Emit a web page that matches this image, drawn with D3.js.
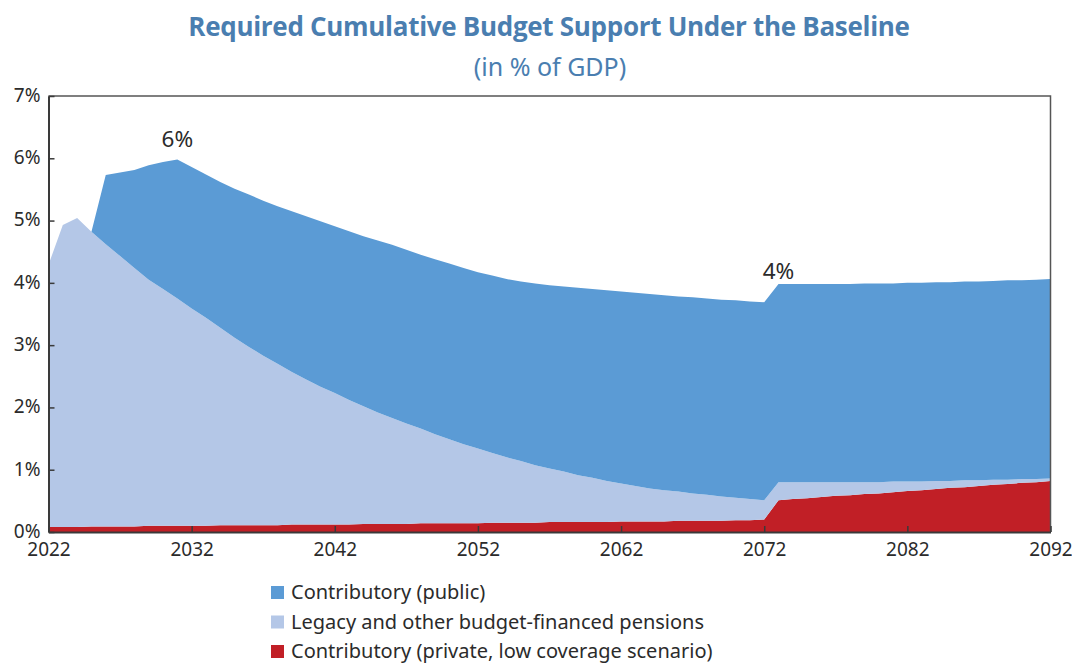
<!DOCTYPE html>
<html>
<head>
<meta charset="utf-8">
<script src="https://cdn.jsdelivr.net/npm/d3@7/dist/d3.min.js"></script>
<style>
  html, body { margin: 0; padding: 0; background: #fff; }
  svg { display: block; font-family: "Noto Sans", "Open Sans", sans-serif; }
</style>
</head>
<body>
<svg id="chart" width="1072" height="663"></svg>
<script>
// Years covered by the projection
const years = d3.range(2022, 2093);

// Contributory (private, low coverage scenario), % of GDP
const privateContrib = [
  0.08, 0.08, 0.08, 0.09, 0.09, 0.09, 0.09, 0.10, 0.10, 0.10,
  0.10, 0.10, 0.11, 0.11, 0.11, 0.11, 0.11, 0.12, 0.12, 0.12,
  0.12, 0.12, 0.13, 0.13, 0.13, 0.13, 0.14, 0.14, 0.14, 0.14,
  0.14, 0.15, 0.15, 0.15, 0.15, 0.16, 0.16, 0.16, 0.16, 0.16,
  0.17, 0.17, 0.17, 0.17, 0.18, 0.18, 0.18, 0.18, 0.19, 0.19,
  0.20, 0.51, 0.53, 0.54, 0.56, 0.58, 0.59, 0.61, 0.62, 0.64,
  0.66, 0.67, 0.69, 0.71, 0.72, 0.74, 0.76, 0.77, 0.79, 0.80,
  0.82
];

// Legacy and other budget-financed pensions, % of GDP
const legacy = [
  4.21, 4.85, 4.96, 4.73, 4.53, 4.34, 4.15, 3.95, 3.80, 3.65,
  3.49, 3.34, 3.17, 3.01, 2.86, 2.72, 2.59, 2.45, 2.33, 2.21,
  2.11, 2.00, 1.89, 1.79, 1.70, 1.61, 1.52, 1.43, 1.35, 1.27,
  1.20, 1.12, 1.05, 0.99, 0.92, 0.86, 0.81, 0.75, 0.71, 0.66,
  0.61, 0.57, 0.53, 0.50, 0.47, 0.44, 0.42, 0.39, 0.36, 0.34,
  0.31, 0.29, 0.27, 0.26, 0.24, 0.22, 0.21, 0.19, 0.18, 0.17,
  0.15, 0.14, 0.13, 0.11, 0.11, 0.09, 0.08, 0.07, 0.06, 0.05,
  0.04
];

// Contributory (public), % of GDP
const publicContrib = [
  0.00, 0.00, 0.00, 0.00, 1.11, 1.34, 1.57, 1.84, 2.04, 2.23,
  2.27, 2.30, 2.34, 2.39, 2.45, 2.49, 2.53, 2.58, 2.62, 2.66,
  2.68, 2.71, 2.73, 2.76, 2.78, 2.79, 2.79, 2.81, 2.82, 2.83,
  2.83, 2.85, 2.86, 2.88, 2.92, 2.94, 2.97, 3.01, 3.03, 3.06,
  3.08, 3.10, 3.12, 3.13, 3.13, 3.15, 3.15, 3.16, 3.17, 3.17,
  3.18, 3.18, 3.18, 3.18, 3.18, 3.18, 3.18, 3.19, 3.19, 3.18,
  3.19, 3.19, 3.19, 3.19, 3.19, 3.19, 3.19, 3.20, 3.19, 3.20,
  3.20
];

// Series, stacked bottom to top
const seriesKeys = ["private", "legacy", "public"];
const seriesNames = {
  public: "Contributory (public)",
  legacy: "Legacy and other budget-financed pensions",
  private: "Contributory (private, low coverage scenario)"
};
const seriesColors = { public: "#5B9BD5", legacy: "#B4C7E7", private: "#C11F26" };
const legendOrder = ["public", "legacy", "private"];

// Axis ticks
const xTickValues = [2022, 2032, 2042, 2052, 2062, 2072, 2082, 2092];
const yTickValues = [0, 1, 2, 3, 4, 5, 6, 7];
const yTickLabels = ["0%", "1%", "2%", "3%", "4%", "5%", "6%", "7%"];

// Value callouts on the total
const callouts = [
  { year: 2031, text: "6%", dy: -13 },
  { year: 2073, text: "4%", dy: -5 }
];

const rows = years.map((yr, i) => ({
  year: yr,
  private: privateContrib[i],
  legacy: legacy[i],
  public: publicContrib[i]
}));

const svg = d3.select("#chart");
const plot = { left: 48.5, right: 1050.5, top: 96, bottom: 532 };

const x = d3.scaleLinear().domain([2022, 2092]).range([plot.left, plot.right]);
const y = d3.scaleLinear().domain([0, 7]).range([plot.bottom, plot.top]);

// Title
svg.append("text")
  .attr("x", 549).attr("y", 36)
  .attr("text-anchor", "middle")
  .attr("fill", "#4A7EB0")
  .attr("font-size", 26).attr("font-weight", 700)
  .attr("font-family", "'Open Sans', 'Noto Sans', sans-serif")
  .attr("letter-spacing", -0.3)
  .text("Required Cumulative Budget Support Under the Baseline");
svg.append("text")
  .attr("x", 550).attr("y", 76)
  .attr("text-anchor", "middle")
  .attr("fill", "#4A7EB0")
  .attr("font-size", 25)
  .text("(in % of GDP)");

// Stacked areas
const stacked = d3.stack().keys(seriesKeys)(rows);
const area = d3.area()
  .x(d => x(d.data.year))
  .y0(d => y(d[0]))
  .y1(d => y(d[1]))
  .curve(d3.curveLinear);

svg.append("g")
  .selectAll("path")
  .data(stacked)
  .join("path")
  .attr("fill", d => seriesColors[d.key])
  .attr("d", area);

// Frame on top and right
const axisColor = "#3a3a3a";
svg.append("path")
  .attr("d", `M${plot.left},${plot.top}H${plot.right}V${plot.bottom}`)
  .attr("fill", "none").attr("stroke", "#555").attr("stroke-width", 1.5);

// Y axis
const yAxis = svg.append("g")
  .attr("transform", `translate(${plot.left},0)`)
  .call(d3.axisLeft(y)
    .tickValues(yTickValues)
    .tickFormat((d, i) => yTickLabels[i])
    .tickSizeInner(-6).tickSizeOuter(0).tickPadding(8));

// X axis
const xAxis = svg.append("g")
  .attr("transform", `translate(0,${plot.bottom})`)
  .call(d3.axisBottom(x)
    .tickValues(xTickValues)
    .tickFormat(d3.format("d"))
    .tickSizeInner(-6).tickSizeOuter(0).tickPadding(11));

[yAxis, xAxis].forEach(g => {
  g.select(".domain").attr("stroke", axisColor).attr("stroke-width", 2);
  g.selectAll(".tick line").attr("stroke", axisColor).attr("stroke-width", 1.5);
  g.selectAll(".tick text")
    .attr("fill", "#2b2b2b")
    .attr("font-size", 19)
    .attr("font-family", "'Noto Sans', sans-serif");
});
yAxis.selectAll(".tick text").attr("dy", "0.28em");

// Callouts
const totalAt = yr => {
  const r = rows.find(d => d.year === yr);
  return r.private + r.legacy + r.public;
};
svg.append("g")
  .selectAll("text")
  .data(callouts)
  .join("text")
  .attr("x", d => x(d.year))
  .attr("y", d => y(totalAt(d.year)) + d.dy)
  .attr("text-anchor", "middle")
  .attr("fill", "#2b2b2b")
  .attr("font-size", 22.5)
  .text(d => d.text);

// Legend
const legend = svg.append("g").attr("transform", "translate(271,586)");
const item = legend.selectAll("g")
  .data(legendOrder)
  .join("g")
  .attr("transform", (d, i) => `translate(0,${i * 29.5})`);
item.append("rect")
  .attr("width", 13).attr("height", 13)
  .attr("fill", d => seriesColors[d]);
item.append("text")
  .attr("x", 20).attr("y", 6.5)
  .attr("dy", "0.33em")
  .attr("fill", "#2b2b2b")
  .attr("font-size", 20)
  .text(d => seriesNames[d]);
</script>
</body>
</html>
